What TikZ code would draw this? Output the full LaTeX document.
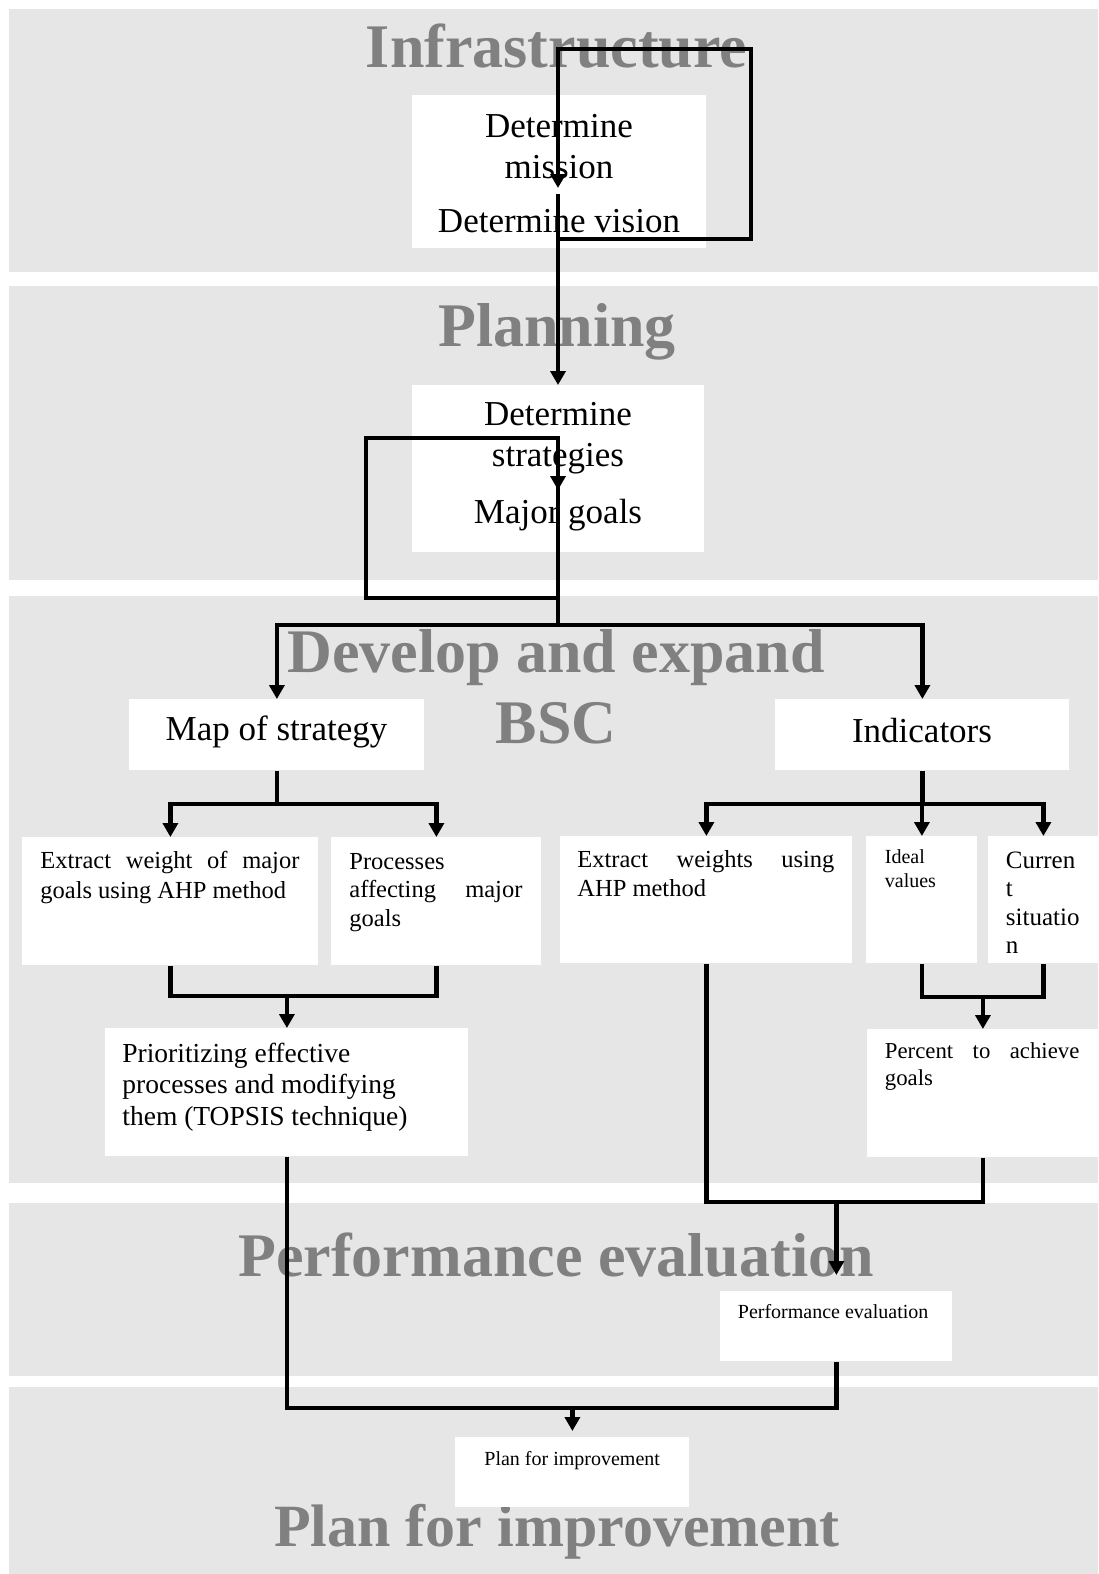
\documentclass[tikz,border=0pt]{standalone}
\usepackage{fontspec}
\setmainfont{Liberation Serif}
\usetikzlibrary{arrows.meta}
\definecolor{bandgray}{RGB}{230,230,230}
\definecolor{headgray}{RGB}{128,128,128}
\newcommand\TL[1]{\begin{tabular}[t]{@{}l@{}}#1\end{tabular}}
\newcommand\TC[1]{\begin{tabular}[t]{@{}c@{}}#1\end{tabular}}
\newcommand\JL[2]{\hbox to #1{#2}}
\begin{document}
\begin{tikzpicture}[x=0.5pt,y=-0.5pt,
  conn/.style={line width=2.3pt},
  arr/.style={line width=2.3pt,-{Triangle[width=7.5pt,length=7pt]}},
  wbox/.style={fill=white,inner sep=0pt,anchor=north west},
  head/.style={inner sep=0pt,anchor=base,text=headgray,font={\fontsize{31pt}{35.5pt}\selectfont\bfseries}},
  big/.style={inner sep=0pt,anchor=base,font={\fontsize{17.5pt}{20.5pt}\selectfont}},
  txt/.style={inner sep=0pt,anchor=base west}]
\useasboundingbox (0,0) rectangle (1098,1574);
% bands
\fill[bandgray] (9,9) rectangle (1098,272);
\fill[bandgray] (9,286) rectangle (1098,580);
\fill[bandgray] (9,596) rectangle (1098,1183);
\fill[bandgray] (9,1203) rectangle (1098,1376);
\fill[bandgray] (9,1387) rectangle (1098,1574);
% headings
\node[head] (hinfra) at (556.5,67) {Infrastructure};
\node[head] (hplan) at (557,346) {Planning};
\node[head] (hdev) at (556,672) {\TC{Develop and expand\\BSC}};
\node[head] (hperf) at (556,1276) {Performance evaluation};
\node[head,font={\fontsize{30pt}{34pt}\selectfont\bfseries}] (himp) at (557,1546) {Plan for improvement};
% boxes
\node[wbox,minimum width=147pt,minimum height=76.5pt] (boxA) at (412,95) {};
\node[wbox,minimum width=146pt,minimum height=83.5pt] (boxB) at (412,385) {};
\node[wbox,minimum width=147.5pt,minimum height=35.5pt] (mapbox) at (129,699) {};
\node[wbox,minimum width=147pt,minimum height=35.5pt] (indbox) at (775,699) {};
\node[wbox,minimum width=148pt,minimum height=64pt] (ewbox) at (22,837) {};
\node[wbox,minimum width=105pt,minimum height=64pt] (procbox) at (331,837) {};
\node[wbox,minimum width=146pt,minimum height=63.5pt] (ewsbox) at (560,836) {};
\node[wbox,minimum width=55.5pt,minimum height=63.5pt] (idealbox) at (866,836) {};
\node[wbox,minimum width=55pt,minimum height=63.5pt] (curbox) at (988,836) {};
\node[wbox,minimum width=181.5pt,minimum height=64pt] (priobox) at (105,1028) {};
\node[wbox,minimum width=115.5pt,minimum height=64pt] (pctbox) at (867,1029) {};
\node[wbox,minimum width=116pt,minimum height=35pt] (perfbox) at (720,1291) {};
\node[wbox,minimum width=117pt,minimum height=35pt] (planbox) at (455,1437) {};
% box texts
\node[big] (tmission) at (559,137) {\TC{Determine\\mission}};
\node[big] (tvision) at (559,232) {Determine vision};
\node[big] (tstrat) at (558,425) {\TC{Determine\\strategies}};
\node[big] (tgoals) at (558,523) {Major goals};
\node[big] (tmap) at (276.5,740) {Map of strategy};
\node[big] (tind) at (922,742) {Indicators};
\node[txt,font={\fontsize{12.25pt}{15pt}\selectfont}] (tew) at (40,868)
  {\TL{\JL{129.5pt}{Extract\hfill weight\hfill of\hfill major}\\goals using AHP method}};
\node[txt,font={\fontsize{12.25pt}{14.25pt}\selectfont}] (tproc) at (349,869)
  {\TL{Processes\\\JL{86.5pt}{affecting\hfill major}\\goals}};
\node[txt,font={\fontsize{12.25pt}{14.5pt}\selectfont}] (tews) at (577,867)
  {\TL{\JL{128.5pt}{Extract\hfill weights\hfill using}\\AHP method}};
\node[txt,font={\fontsize{10pt}{12pt}\selectfont}] (tideal) at (884.5,863)
  {\TL{Ideal\\values}};
\node[txt,font={\fontsize{12.5pt}{14.25pt}\selectfont}] (tcur) at (1005.5,868)
  {\TL{Curren\\t\\situatio\\n}};
\node[txt,font={\fontsize{13.75pt}{15.75pt}\selectfont}] (tprio) at (122,1062)
  {\TL{Prioritizing effective\\processes and modifying\\them (TOPSIS technique)}};
\node[txt,font={\fontsize{11.4pt}{13.5pt}\selectfont}] (tpct) at (884.5,1058)
  {\TL{\JL{97.25pt}{Percent\hfill to\hfill achieve}\\goals}};
\node[txt,font={\fontsize{10pt}{12pt}\selectfont}] (tperf) at (737.5,1318) {Performance evaluation};
\node[txt,font={\fontsize{10pt}{12pt}\selectfont}] (tplan) at (484,1465) {Plan for improvement};
% connectors
\coordinate (a0) at (558,194);
\coordinate (l1r) at (751,239);
\coordinate (l1t) at (751,49);
\coordinate (a1) at (558,188);
\draw[arr] (a0) |- (l1r) -- (l1t) -| (a1);
\draw[arr] (a0) -- (a0 |- boxB.north);
\coordinate (b0) at (558,484);
\coordinate (l2b) at (366,598);
\coordinate (l2t) at (366,438);
\coordinate (b1) at (558,490);
\draw[arr] (b0) |- (l2b) -- (l2t) -| (b1);
\coordinate (br1) at (558,625);
\draw[conn] (b0) -- (br1);
\draw[arr] (br1) -| (mapbox.north);
\draw[arr] (br1) -| (indbox.north);
\path (mapbox.south) ++(0,33) coordinate (mb);
\draw[conn] (mapbox.south) -- (mb);
\draw[arr] (mb) -| (ewbox.north);
\draw[arr] (mb) -| (procbox.north);
\path (indbox.south) ++(0,33) coordinate (ib);
\draw[conn] (indbox.south) -- (ib);
\draw[arr] (ib) -| (ewsbox.north);
\draw[arr] (ib) -| (idealbox.north);
\draw[arr] (ib) -| (curbox.north);
\path (ewbox.south) ++(0,30) coordinate (m1l);
\draw[conn] (ewbox.south) -- (m1l) -| (procbox.south);
\draw[arr] (priobox.north |- m1l) -- (priobox.north);
\path (idealbox.south) ++(0,33) coordinate (m2l);
\draw[conn] (idealbox.south) -- (m2l) -| (curbox.south);
\draw[arr] (pctbox.north |- m2l) -- (pctbox.north);
\path (ewsbox.south) ++(0,238) coordinate (e1);
\draw[conn] (ewsbox.south) -- (e1) -| (pctbox.south);
\path (perfbox.north) ++(0,-16) coordinate (pe);
\draw[arr] (e1 -| pe) -- (pe);
\path (priobox.south) ++(0,251) coordinate (p1);
\draw[conn] (priobox.south) -- (p1) -| (perfbox.south);
\path (planbox.north) ++(0,-6) coordinate (pl);
\draw[arr] (p1 -| pl) -- (pl);
\end{tikzpicture}
\end{document}
